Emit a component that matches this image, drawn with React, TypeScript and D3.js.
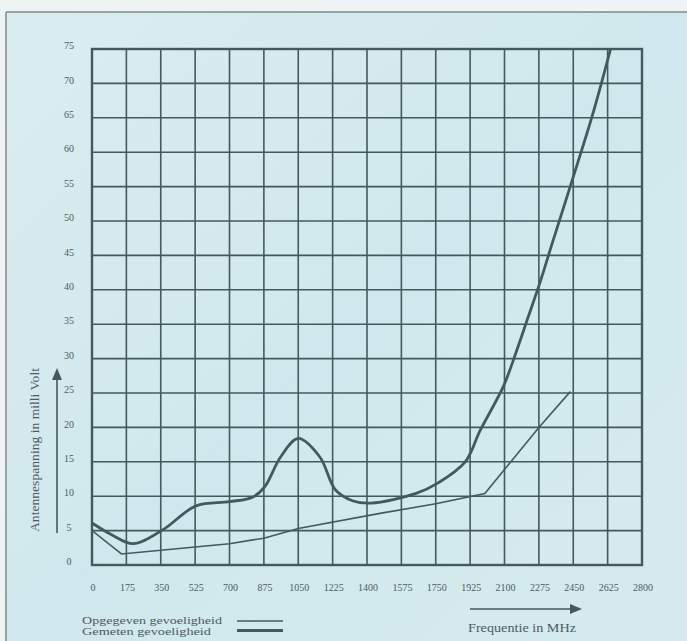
import React from "react";
import * as d3 from "d3";

const xTicks = [0, 175, 350, 525, 700, 875, 1050, 1225, 1400, 1575, 1750, 1925, 2100, 2275, 2450, 2625, 2800];
const yTicks = [0, 5, 10, 15, 20, 25, 30, 35, 40, 45, 50, 55, 60, 65, 70, 75];

const gemetenFreq = [0, 100, 210, 360, 530, 700, 820, 880, 960, 1050, 1160, 1240, 1330, 1420, 1650, 1760, 1900, 1975, 2095, 2160, 2220, 2280, 2340, 2440, 2550, 2640];
const gemetenMv = [6.1, 4.4, 3.1, 5.1, 8.6, 9.2, 9.9, 11.4, 15.7, 18.4, 15.7, 10.9, 9.3, 9.0, 10.4, 11.9, 15.0, 19.5, 26.0, 31.0, 36.0, 41.0, 46.5, 55.5, 65.6, 75];

const opgegevenFreq = [0, 150, 700, 875, 1050, 1466, 1750, 2000, 2275, 2435];
const opgegevenMv = [5.0, 1.6, 3.1, 3.9, 5.3, 7.5, 8.9, 10.4, 20.0, 25.2];

const W = 687;
const H = 641;
const INK = "#44595d";
const TXT = "#4e5a5c";
const FONT = "'Liberation Serif', 'DejaVu Serif', serif";

export default function App() {
  const x = d3.scaleLinear().domain([0, 2800]).range([92, 642]);
  const y = d3.scaleLinear().domain([0, 75]).range([565, 49]);

  const gem = gemetenFreq.map((f, i) => [f, gemetenMv[i]] as [number, number]);
  const opg = opgegevenFreq.map((f, i) => [f, opgegevenMv[i]] as [number, number]);

  const smooth = d3
    .line<[number, number]>()
    .x((d) => x(d[0]))
    .y((d) => y(d[1]))
    .curve(d3.curveCatmullRom.alpha(0.5));
  const straight = d3
    .line<[number, number]>()
    .x((d) => x(d[0]))
    .y((d) => y(d[1]));

  return (
    <svg
      width={W}
      height={H}
      style={{ position: "absolute", left: 0, top: 0, fontFamily: FONT }}
    >
      <defs>
        <linearGradient id="bg" x1="0" y1="0" x2="1" y2="1">
          <stop offset="0" stopColor="#dbedf0" />
          <stop offset="0.5" stopColor="#d0e8ed" />
          <stop offset="1" stopColor="#d6ebef" />
        </linearGradient>
        <clipPath id="plotclip">
          <rect x={x(0)} y={y(75)} width={x(2800) - x(0)} height={y(0) - y(75)} />
        </clipPath>
      </defs>
      <rect x={0} y={0} width={W} height={H} fill="#eef3f3" />
      <rect x={6} y={12} width={W - 6} height={H - 12} fill="url(#bg)" />
      <line x1={6} y1={12} x2={W} y2={12} stroke="#7d8a8c" strokeWidth={1.5} />
      <line x1={6} y1={12} x2={6} y2={H} stroke="#7d8a8c" strokeWidth={1.5} />

      {/* grid */}
      {xTicks.map((t) => (
        <line key={"vx" + t} x1={x(t)} x2={x(t)} y1={y(0)} y2={y(75)} stroke={INK} strokeWidth={1.6} />
      ))}
      {yTicks.map((t) => (
        <line key={"hy" + t} x1={x(0)} x2={x(2800)} y1={y(t)} y2={y(t)} stroke={INK} strokeWidth={1.6} />
      ))}
      <rect
        x={x(0)}
        y={y(75)}
        width={x(2800) - x(0)}
        height={y(0) - y(75)}
        fill="none"
        stroke={INK}
        strokeWidth={2.4}
      />

      {/* curves */}
      <g clipPath="url(#plotclip)">
        <path d={straight(opg) || ""} fill="none" stroke={INK} strokeWidth={1.6} />
        <path d={smooth(gem) || ""} fill="none" stroke={INK} strokeWidth={2.8} />
      </g>

      {/* y tick labels */}
      {yTicks.map((t) => (
        <text
          key={"yl" + t}
          x={69}
          y={y(t) - 2}
          textAnchor="middle"
          dominantBaseline="middle"
          fontSize={10}
          fill={TXT}
        >
          {t}
        </text>
      ))}

      {/* x tick labels */}
      {xTicks.map((t) => (
        <text key={"xl" + t} x={x(t) + 1} y={591} textAnchor="middle" fontSize={10} fill={TXT}>
          {t}
        </text>
      ))}

      {/* y axis title + arrow */}
      <text
        transform={`translate(39,450) rotate(-90)`}
        textAnchor="middle"
        fontSize={12}
        textLength={164}
        lengthAdjust="spacingAndGlyphs"
        fill={TXT}
      >
        Antennespanning in milli Volt
      </text>
      <line x1={57} y1={533} x2={57} y2={378} stroke={INK} strokeWidth={1.6} />
      <path d="M52,380 L57,368 L62,380 Z" fill={INK} />

      {/* x axis title + arrow */}
      <line x1={470} y1={609} x2={572} y2={609} stroke={INK} strokeWidth={1.6} />
      <path d="M570,604 L582,609 L570,614 Z" fill={INK} />
      <text
        x={522}
        y={632}
        textAnchor="middle"
        fontSize={12}
        textLength={108}
        lengthAdjust="spacingAndGlyphs"
        fill={TXT}
      >
        Frequentie in MHz
      </text>

      {/* legend */}
      <text x={82} y={624} fontSize={10.5} textLength={140} lengthAdjust="spacingAndGlyphs" fill={TXT}>
        Opgegeven gevoeligheid
      </text>
      <line x1={237} y1={621} x2={283} y2={621} stroke={INK} strokeWidth={1.4} />
      <text x={82} y={635} fontSize={10.5} textLength={129} lengthAdjust="spacingAndGlyphs" fill={TXT}>
        Gemeten gevoeligheid
      </text>
      <line x1={237} y1={630.5} x2={283} y2={630.5} stroke={INK} strokeWidth={2.8} />
    </svg>
  );
}
